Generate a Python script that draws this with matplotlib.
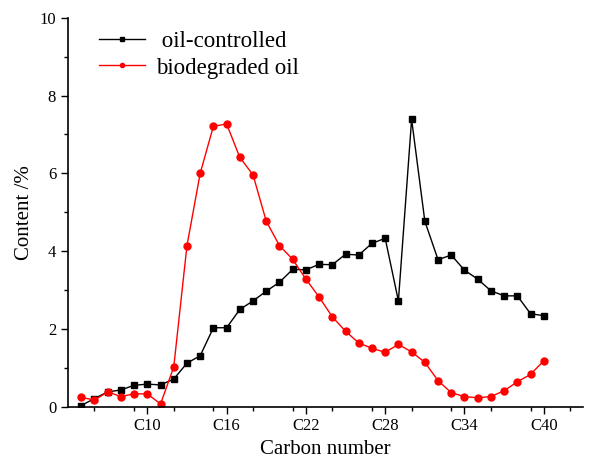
import matplotlib
matplotlib.use("Agg")
import matplotlib.pyplot as plt
from matplotlib.ticker import MultipleLocator

plt.rcParams['font.family'] = ['Liberation Serif', 'DejaVu Serif']

# carbon numbers C5..C40
carbon = list(range(5, 41))

oil_controlled = [0.03, 0.21, 0.38, 0.43, 0.55, 0.58, 0.56, 0.71, 1.12, 1.31,
                  2.03, 2.03, 2.50, 2.72, 2.97, 3.20, 3.53, 3.52, 3.66, 3.65,
                  3.92, 3.90, 4.20, 4.33, 2.72, 7.39, 4.77, 3.78, 3.90, 3.51,
                  3.28, 2.98, 2.85, 2.85, 2.39, 2.34]

biodegraded = [0.24, 0.17, 0.38, 0.26, 0.33, 0.33, 0.07, 1.02, 4.14, 6.00,
               7.21, 7.27, 6.41, 5.96, 4.77, 4.14, 3.79, 3.28, 2.82, 2.31,
               1.94, 1.64, 1.50, 1.40, 1.60, 1.41, 1.14, 0.67, 0.36, 0.26,
               0.23, 0.26, 0.41, 0.64, 0.83, 1.18]

tick_pos = [10, 16, 22, 28, 34, 40]
tick_lab = ['C10', 'C16', 'C22', 'C28', 'C34', 'C40']

fig = plt.figure(figsize=(5.89, 4.68), dpi=100)
ax = fig.add_axes([0.1155, 0.131, 0.875, 0.831])

ax.plot(carbon, oil_controlled, '-s', color='black', lw=1, ms=4.5,
        label=' oil-controlled')
ax.plot(carbon, biodegraded, '-o', color='red', lw=1, ms=5,
        label='biodegraded oil')

ax.set_xlim(4, 43)
ax.set_ylim(0, 10)
ax.set_xticks(tick_pos)
ax.set_xticklabels(tick_lab)
ax.xaxis.set_minor_locator(MultipleLocator(3))
ax.yaxis.set_major_locator(MultipleLocator(2))
ax.yaxis.set_minor_locator(MultipleLocator(1))
ax.tick_params(which='major', length=5, width=1, labelsize=12)
ax.tick_params(which='minor', length=3, width=1)
ax.spines['top'].set_visible(False)
ax.spines['right'].set_visible(False)
for s in ['left', 'bottom']:
    ax.spines[s].set_linewidth(1.2)

ax.set_xlabel('Carbon number', fontsize=15)
ax.set_ylabel('Content /%', fontsize=15)

leg = ax.legend(loc='upper left', bbox_to_anchor=(0.06, 0.965), frameon=False,
                fontsize=16.5, markerscale=0.6, handlelength=2.0,
                handletextpad=0.5, labelspacing=0.22, borderpad=0,
                borderaxespad=0)

fig.savefig('out.png', dpi=100)
